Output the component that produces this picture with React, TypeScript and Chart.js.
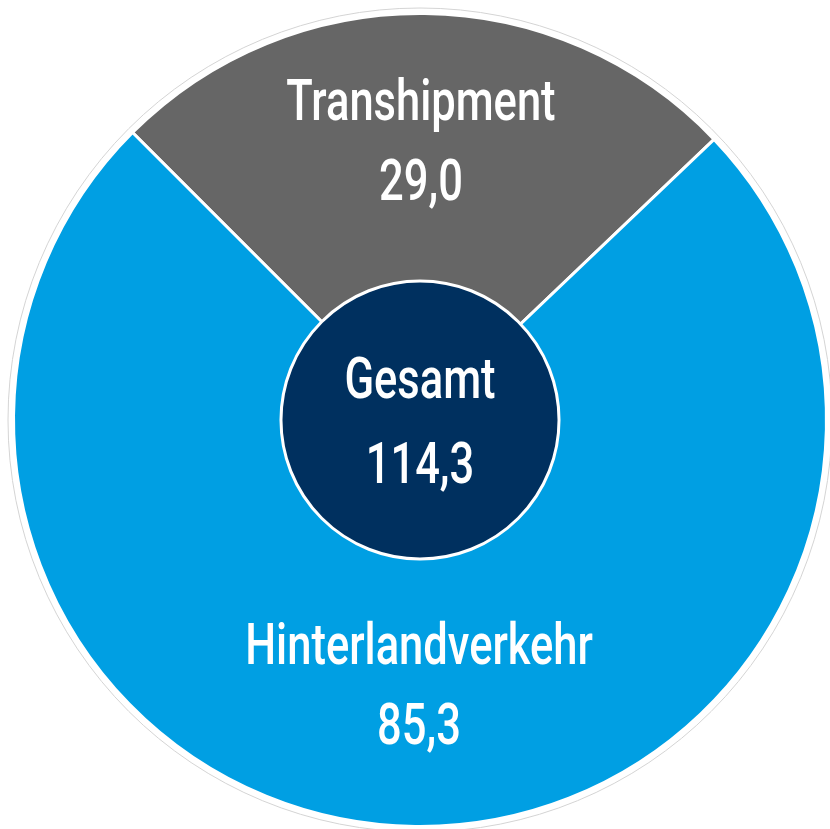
import React, { useEffect, useRef } from "react";
import { Chart, registerables } from "chart.js";

Chart.register(...registerables);

const categories = ["Transhipment", "Hinterlandverkehr"];
const values = [29.0, 85.3];
const sliceColors = ["#666666", "#009FE3"];
const totalLabel = "Gesamt";
const centerColor = "#00305F";

const fmt = (v: number) => v.toFixed(1).replace(".", ",");

const FONT_FAMILY = "Roboto, 'Noto Sans', sans-serif";
const SCALE_X = 0.75;
const FONT_SIZE = 58;

function drawCondensed(ctx: CanvasRenderingContext2D, text: string, x: number, baseline: number) {
  ctx.save();
  ctx.translate(x, baseline);
  ctx.scale(SCALE_X, 1);
  ctx.font = `500 ${FONT_SIZE}px ${FONT_FAMILY}`;
  ctx.textAlign = "center";
  ctx.textBaseline = "alphabetic";
  ctx.fillStyle = "#ffffff";
  ctx.fillText(text, 0, 0);
  ctx.restore();
}

const overlayPlugin = {
  id: "overlay",
  afterDatasetsDraw(chart: any) {
    const ctx: CanvasRenderingContext2D = chart.ctx;
    const meta = chart.getDatasetMeta(0);
    const arc0 = meta.data[0];
    const cx = arc0.x;
    const cy = arc0.y;
    const R = arc0.outerRadius;

    // outer rim: white ring + thin grey outline
    ctx.save();
    ctx.beginPath();
    ctx.arc(cx, cy, R + 2.5, 0, Math.PI * 2);
    ctx.strokeStyle = "#ffffff";
    ctx.lineWidth = 5;
    ctx.stroke();
    ctx.beginPath();
    ctx.arc(cx, cy, R + 5.5, 0, Math.PI * 2);
    ctx.strokeStyle = "#d4d4d4";
    ctx.lineWidth = 1;
    ctx.stroke();
    ctx.restore();

    // center circle
    const r = R * 0.342;
    ctx.save();
    ctx.beginPath();
    ctx.arc(cx, cy, r, 0, Math.PI * 2);
    ctx.fillStyle = centerColor;
    ctx.fill();
    ctx.strokeStyle = "#ffffff";
    ctx.lineWidth = 3;
    ctx.stroke();
    ctx.restore();

    const lineGap = 82;
    const capHalf = 20;

    // slice labels
    const dists = [0.69, 0.65];
    meta.data.forEach((arc: any, i: number) => {
      const mid = (arc.startAngle + arc.endAngle) / 2;
      const d = R * dists[i];
      const bx = cx + Math.cos(mid) * d;
      const by = cy + Math.sin(mid) * d;
      const b1 = by - lineGap / 2 + capHalf;
      drawCondensed(ctx, categories[i], cx + (bx - cx) * 0.3, b1 + 1);
      drawCondensed(ctx, fmt(values[i]), cx + (bx - cx) * 0.3, b1 + lineGap - 1);
    });

    // total
    const total = values.reduce((a, b) => a + b, 0);
    const tb = cy - 22;
    drawCondensed(ctx, totalLabel, cx, tb);
    drawCondensed(ctx, fmt(total), cx, tb + 85);
  },
};

export default function App() {
  const ref = useRef<HTMLCanvasElement | null>(null);
  useEffect(() => {
    if (!ref.current) return;
    const chart = new Chart(ref.current, {
      type: "pie",
      data: {
        labels: categories,
        datasets: [
          {
            data: values,
            backgroundColor: sliceColors,
            borderColor: "#ffffff",
            borderWidth: 3,
          },
        ],
      },
      options: {
        animation: false,
        responsive: true,
        maintainAspectRatio: false,
        rotation: -45,
        layout: { padding: { left: 12, top: 12, right: 2, bottom: 1 } },
        plugins: {
          legend: { display: false },
          tooltip: { enabled: false },
        },
      },
      plugins: [overlayPlugin],
    });
    return () => chart.destroy();
  }, []);
  return (
    <div style={{ position: "fixed", left: 0, top: 0, width: 830, height: 829, background: "#ffffff" }}>
      <canvas ref={ref} />
    </div>
  );
}
